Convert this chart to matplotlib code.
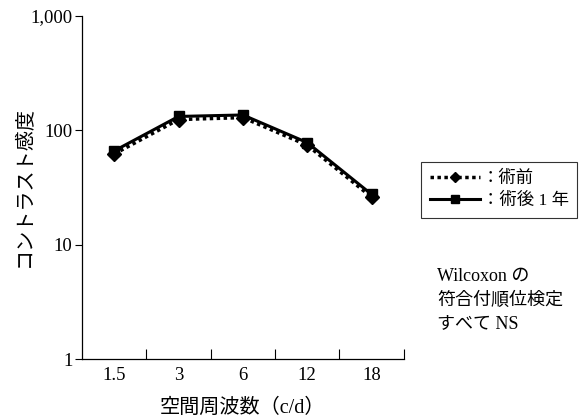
import matplotlib
matplotlib.use("Agg")
import matplotlib.pyplot as plt
import numpy as np

plt.rcParams['font.family'] = ['Liberation Serif', 'Noto Sans CJK JP']

categories = ["1.5", "3", "6", "12", "18"]
before = [62, 124, 129, 74, 26]
after = [66, 132, 136, 78, 27.5]
yticks = [1, 10, 100, 1000]
ytick_labels = ["1", "10", "100", "1,000"]

fig = plt.figure(figsize=(5.86, 4.17), dpi=100)
ax = fig.add_axes([0.140, 0.139, 0.549, 0.823])

x = np.arange(len(categories))
ax.plot(x, before, linestyle=(0, (1, 1)), color='black', linewidth=2.5,
        marker='D', markersize=7, label='：術前')
ax.plot(x, after, linestyle='-', color='black', linewidth=2.2,
        marker='s', markersize=7, label='：術後 1 年')

ax.set_yscale('log')
ax.set_ylim(1, 1000)
ax.set_xlim(-0.5, len(categories) - 0.5)
ax.set_yticks(yticks)
ax.set_yticklabels(ytick_labels, fontsize=13.5)
ax.yaxis.set_minor_locator(matplotlib.ticker.NullLocator())
ax.tick_params(axis='y', direction='out', length=5, width=0.8, pad=2)

ax.set_xticks(x)
ax.set_xticklabels(categories, fontsize=13.5)
ax.tick_params(axis='x', which='major', length=0, pad=6)
ax.set_xticks(np.arange(len(categories)) + 0.5, minor=True)
ax.tick_params(axis='x', which='minor', direction='in', length=7, width=0.8)

for s in ['top', 'right']:
    ax.spines[s].set_visible(False)
for s in ['left', 'bottom']:
    ax.spines[s].set_linewidth(0.9)

ax.set_xlabel('空間周波数（c/d）', fontsize=14.5)
ax.xaxis.set_label_coords(0.5, -(408 - 359) / 343, transform=ax.transAxes)
ax.xaxis.label.set_va('center')
ax.set_ylabel('コントラスト感度', fontsize=14.5)
ax.yaxis.set_label_coords((24 - 82) / 322, (359 - 187) / 343)
ax.yaxis.label.set_va('center')

leg = ax.legend(loc='center left', bbox_to_anchor=(421/586, 1 - 190/417),
                bbox_transform=fig.transFigure, fontsize=12.5, frameon=True,
                fancybox=False, edgecolor='black', handlelength=2.9,
                handletextpad=0.1, borderpad=0.5, labelspacing=0.35,
                borderaxespad=0, markerscale=0.75)
leg.get_frame().set_linewidth(0.8)

fig.text(437/586, 1 - 300/417, 'Wilcoxon の\n符合付順位検定\nすべて NS', fontsize=13,
         va='center', ha='left', linespacing=1.5)

fig.savefig('out.png', dpi=100)
